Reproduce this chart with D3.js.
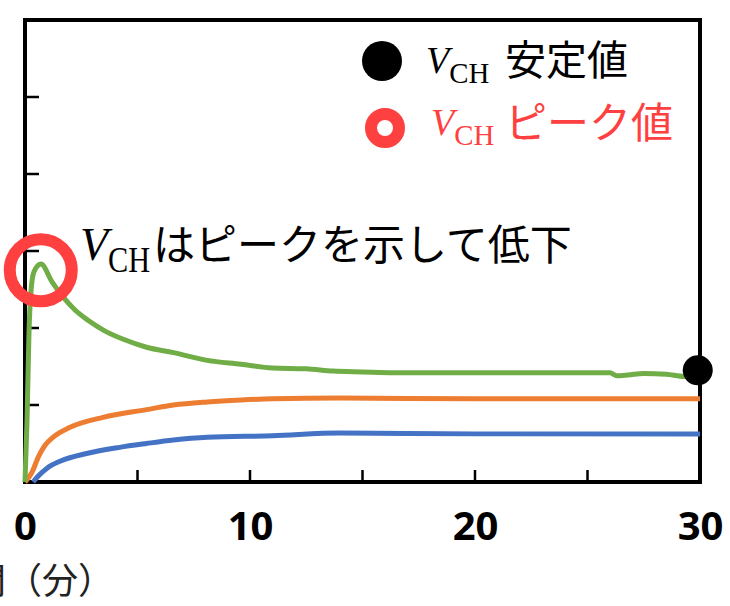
<!DOCTYPE html>
<html>
<head>
<meta charset="utf-8">
<script src="https://cdn.jsdelivr.net/npm/d3@7"></script>
<style>
  html, body { margin: 0; padding: 0; background: #fff; }
  svg { display: block; }
</style>
</head>
<body>
<div id="chart"></div>
<script>
// time (min) / value pairs
const greenSeries = [
  [0, 0], [0.09, 0.8], [0.18, 1.97], [0.27, 2.49], [0.4, 2.73], [0.71, 2.83],
  [1.2, 2.6], [1.7, 2.4], [2.2, 2.24], [2.8, 2.1], [3.5, 1.97], [4.4, 1.85],
  [5.4, 1.75], [6.6, 1.68], [8.1, 1.58], [9.6, 1.53], [11, 1.48], [12.5, 1.47],
  [13.7, 1.44], [15, 1.43], [16.4, 1.42], [20, 1.42], [24, 1.42], [26, 1.42],
  [26.3, 1.38], [26.8, 1.39], [27.5, 1.41], [28.5, 1.40], [29.3, 1.37], [29.9, 1.38]
];
const orangeSeries = [
  [0, 0], [0.3, 0.12], [0.6, 0.33], [0.9, 0.48], [1.24, 0.58], [2.0, 0.71],
  [3.47, 0.84], [5.4, 0.94], [6.6, 1.0], [8.1, 1.04], [9.6, 1.065], [11, 1.08],
  [14, 1.09], [20, 1.08], [30, 1.08]
];
const blueSeries = [
  [0.36, 0], [0.6, 0.08], [0.98, 0.18], [1.56, 0.27], [2.74, 0.37], [4.2, 0.45],
  [5.4, 0.5], [6.6, 0.545], [8.1, 0.58], [11, 0.6], [14, 0.635], [20, 0.625], [30, 0.625]
];
const peakPoint = [0.7, 2.75];     // red ring
const stablePoint = [29.9, 1.45];  // black dot
const xTicks = [0, 10, 20, 30];
const xMinorTicks = [0, 5, 10, 15, 20, 25, 30];
const yTicks = [0, 1, 2, 3, 4, 5, 6];

const W = 730, H = 606;
const m = { t: 20, r: 30, b: 124, l: 25 };

const svg = d3.select('#chart').append('svg')
  .attr('width', W).attr('height', H);

const x = d3.scaleLinear().domain([0, 30]).range([m.l, W - m.r]);
const y = d3.scaleLinear().domain([0, 6]).range([H - m.b, m.t]);

const RED = '#FF4040';
const CJK = '"Noto Sans CJK JP", "Noto Sans", sans-serif';
const SERIF = '"Liberation Serif", "DejaVu Serif", serif';

// frame
svg.append('rect')
  .attr('x', x(0)).attr('y', y(6))
  .attr('width', x(30) - x(0)).attr('height', y(0) - y(6))
  .attr('fill', 'none').attr('stroke', '#000').attr('stroke-width', 4);

// inward ticks on left axis
svg.append('g').selectAll('line')
  .data(yTicks.slice(1, -1)).join('line')
  .attr('x1', x(0)).attr('x2', x(0) + 14)
  .attr('y1', d => y(d)).attr('y2', d => y(d))
  .attr('stroke', '#000').attr('stroke-width', 2.5);

// inward ticks on bottom axis
svg.append('g').selectAll('line')
  .data(xMinorTicks.slice(1, -1)).join('line')
  .attr('x1', d => x(d)).attr('x2', d => x(d))
  .attr('y1', y(0)).attr('y2', y(0) - 12)
  .attr('stroke', '#000').attr('stroke-width', 2.5);

// x labels
svg.append('g')
  .attr('transform', `translate(0,${y(0)})`)
  .call(d3.axisBottom(x).tickValues(xTicks).tickSize(0).tickPadding(30))
  .call(g => g.select('.domain').remove())
  .selectAll('text')
  .attr('font-family', '"Noto Sans", "Open Sans", sans-serif')
  .attr('font-weight', 700)
  .attr('font-size', 40)
  .attr('fill', '#000')
  .attr('dy', '0.7em');

// x title (cut at the left edge like the reference)
svg.append('text')
  .attr('x', 114).attr('y', 594)
  .attr('text-anchor', 'end')
  .attr('font-family', CJK).attr('font-size', 36).attr('fill', '#222')
  .text('時間（分）');

// lines
const line = d3.line()
  .x(d => x(d[0])).y(d => y(d[1]))
  .curve(d3.curveMonotoneX);

[[blueSeries, '#4472C4'], [orangeSeries, '#ED7D31'], [greenSeries, '#70AD47']]
  .forEach(([data, color]) => {
    svg.append('path').datum(data)
      .attr('fill', 'none')
      .attr('stroke', color)
      .attr('stroke-width', 5)
      .attr('stroke-linejoin', 'round')
      .attr('d', line);
  });

// markers
svg.append('circle')
  .attr('cx', x(peakPoint[0])).attr('cy', y(peakPoint[1]))
  .attr('r', 31).attr('fill', 'none')
  .attr('stroke', RED).attr('stroke-width', 12);
svg.append('circle')
  .attr('cx', x(stablePoint[0])).attr('cy', y(stablePoint[1]))
  .attr('r', 15).attr('fill', '#000');

// V_CH helper: italic V + subscript CH
function vch(g, x0, base, vSize, subSize, subDrop, subLen, color) {
  const t = g.append('text').attr('y', base).attr('fill', color);
  t.append('tspan').attr('x', x0)
    .attr('font-family', SERIF).attr('font-style', 'italic')
    .attr('font-size', vSize).text('V');
  t.append('tspan')
    .attr('dy', subDrop)
    .attr('font-family', SERIF).attr('font-size', subSize)
    .attr('textLength', subLen).attr('lengthAdjust', 'spacingAndGlyphs')
    .text('CH');
}

// annotation
const ann = svg.append('g');
vch(ann, 80, 260, 46, 36, 12, 42, '#000');
ann.append('text')
  .attr('x', 153).attr('y', 260)
  .attr('font-family', CJK).attr('font-size', 42).attr('fill', '#000')
  .text('はピークを示して低下');

// legend
const lg = svg.append('g');
lg.append('circle').attr('cx', 382).attr('cy', 61).attr('r', 20).attr('fill', '#000');
vch(lg, 426, 73, 38, 30, 10, 40, '#000');
lg.append('text')
  .attr('x', 505).attr('y', 75)
  .attr('font-family', CJK).attr('font-size', 41).attr('fill', '#000')
  .text('安定値');

lg.append('circle').attr('cx', 385).attr('cy', 128).attr('r', 14)
  .attr('fill', 'none').attr('stroke', RED).attr('stroke-width', 12);
vch(lg, 431, 135, 38, 30, 10, 40, RED);
lg.append('text')
  .attr('x', 505).attr('y', 138)
  .attr('font-family', CJK).attr('font-size', 42).attr('fill', RED)
  .text('ピーク値');
</script>
</body>
</html>
